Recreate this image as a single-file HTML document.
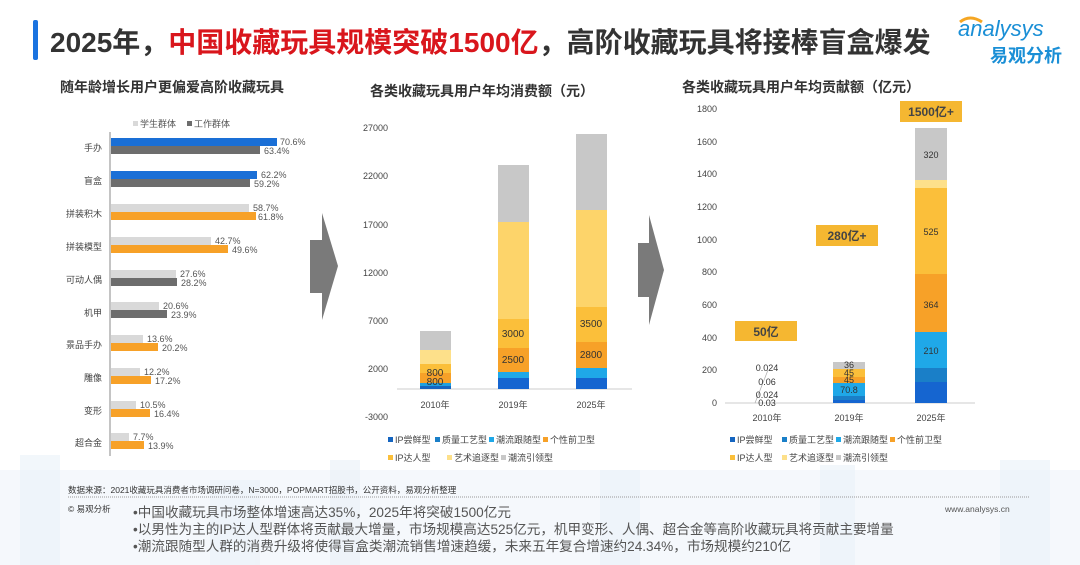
<!DOCTYPE html>
<html><head><meta charset="utf-8"><style>
body{margin:0;background:#fff;}
svg{display:block;font-family:"Liberation Sans","Noto Sans CJK SC",sans-serif;}
</style></head><body>
<svg width="1080" height="565" viewBox="0 0 1080 565" xmlns="http://www.w3.org/2000/svg">
<!-- faint skyline -->
<g fill="#f5f8fc">
<rect x="0" y="470" width="1080" height="95"/>
</g>
<g fill="#eaf1f8" opacity="0.6">
<rect x="20" y="455" width="40" height="110"/><rect x="210" y="480" width="50" height="85"/><rect x="330" y="460" width="30" height="105"/>
<rect x="600" y="470" width="40" height="95"/><rect x="820" y="465" width="35" height="100"/><rect x="1000" y="460" width="50" height="105"/>
</g>
<!-- title -->
<rect x="33" y="20" width="5" height="40" rx="2" fill="#1a73e0"/>
<text x="50" y="52" font-size="28" font-weight="bold" fill="#333">2025年，<tspan fill="#d9161c">中国收藏玩具规模突破1500亿</tspan>，高阶收藏玩具将接棒盲盒爆发</text>
<text x="958" y="36" font-size="22" fill="#1a8fd6" font-style="italic">analysys</text>
<path d="M960 22 q10 -8 22 0" stroke="#f5a623" stroke-width="3" fill="none"/>
<text x="990" y="62" font-size="18" font-weight="bold" fill="#1a8fd6">易观分析</text>
<!-- section titles -->
<g font-size="14" font-weight="bold" fill="#333">
<text x="60" y="92">随年龄增长用户更偏爱高阶收藏玩具</text>
<text x="370" y="96">各类收藏玩具用户年均消费额（元）</text>
<text x="682" y="92">各类收藏玩具用户年均贡献额（亿元）</text>
</g>
<!-- LEFT CHART -->
<g font-size="9" fill="#555">
<rect x="133" y="121" width="5" height="5" fill="#d9d9d9"/><text x="140" y="127">学生群体</text>
<rect x="187" y="121" width="5" height="5" fill="#6d6d6d"/><text x="194" y="127">工作群体</text>
</g>
<line x1="110" y1="132" x2="110" y2="456" stroke="#888" stroke-width="1"/>
<g font-size="9" fill="#444" text-anchor="end">
<text x="102" y="151">手办</text><text x="102" y="184">盲盒</text><text x="102" y="217">拼装积木</text><text x="102" y="250">拼装模型</text><text x="102" y="283">可动人偶</text><text x="102" y="316">机甲</text><text x="102" y="348">景品手办</text><text x="102" y="381">雕像</text><text x="102" y="414">变形</text><text x="102" y="446">超合金</text>
</g>
<g>
<rect x="111" y="138" width="166" height="8" fill="#1a6fd6"/><rect x="111" y="146" width="149" height="8" fill="#6d6d6d"/>
<rect x="111" y="171" width="146" height="8" fill="#1a6fd6"/><rect x="111" y="179" width="139" height="8" fill="#6d6d6d"/>
<rect x="111" y="204" width="138" height="8" fill="#d9d9d9"/><rect x="111" y="212" width="145" height="8" fill="#f7a128"/>
<rect x="111" y="237" width="100" height="8" fill="#d9d9d9"/><rect x="111" y="245" width="117" height="8" fill="#f7a128"/>
<rect x="111" y="270" width="65" height="8" fill="#d9d9d9"/><rect x="111" y="278" width="66" height="8" fill="#6d6d6d"/>
<rect x="111" y="302" width="48" height="8" fill="#d9d9d9"/><rect x="111" y="310" width="56" height="8" fill="#6d6d6d"/>
<rect x="111" y="335" width="32" height="8" fill="#d9d9d9"/><rect x="111" y="343" width="47" height="8" fill="#f7a128"/>
<rect x="111" y="368" width="29" height="8" fill="#d9d9d9"/><rect x="111" y="376" width="40" height="8" fill="#f7a128"/>
<rect x="111" y="401" width="25" height="8" fill="#d9d9d9"/><rect x="111" y="409" width="39" height="8" fill="#f7a128"/>
<rect x="111" y="433" width="18" height="8" fill="#d9d9d9"/><rect x="111" y="441" width="33" height="8" fill="#f7a128"/>
</g>
<g font-size="9" fill="#555">
<text x="280" y="145">70.6%</text><text x="264" y="154">63.4%</text>
<text x="261" y="178">62.2%</text><text x="254" y="187">59.2%</text>
<text x="253" y="211">58.7%</text><text x="258" y="220">61.8%</text>
<text x="215" y="244">42.7%</text><text x="232" y="253">49.6%</text>
<text x="180" y="277">27.6%</text><text x="181" y="286">28.2%</text>
<text x="163" y="309">20.6%</text><text x="171" y="318">23.9%</text>
<text x="147" y="342">13.6%</text><text x="162" y="351">20.2%</text>
<text x="144" y="375">12.2%</text><text x="155" y="384">17.2%</text>
<text x="140" y="408">10.5%</text><text x="154" y="417">16.4%</text>
<text x="133" y="440">7.7%</text><text x="148" y="449">13.9%</text>
</g>
<!-- arrows -->
<g fill="#7a7a7a">
<rect x="310" y="240" width="14" height="53"/><polygon points="322,213 338,266 322,320"/>
<rect x="638" y="243" width="12" height="54"/><polygon points="649,215 664,270 649,325"/>
</g>
<!-- MIDDLE CHART -->
<g font-size="9" fill="#444" text-anchor="end">
<text x="388" y="131">27000</text><text x="388" y="179">22000</text><text x="388" y="228">17000</text><text x="388" y="276">12000</text><text x="388" y="324">7000</text><text x="388" y="372">2000</text><text x="388" y="420">-3000</text>
</g>
<line x1="397" y1="389" x2="632" y2="389" stroke="#ccc"/>
<rect x="420" y="331" width="31" height="19" fill="#c8c8c8"/>
<rect x="420" y="350" width="31" height="14" fill="#fde08a"/>
<rect x="420" y="364" width="31" height="9" fill="#fbbf3a"/>
<rect x="420" y="373" width="31" height="10" fill="#f7a128"/>
<rect x="420" y="383" width="31" height="3" fill="#1fa0e0"/>
<rect x="420" y="386" width="31" height="3" fill="#1565c0"/>
<rect x="498" y="165" width="31" height="57" fill="#c8c8c8"/>
<rect x="498" y="222" width="31" height="97" fill="#fdd46a"/>
<rect x="498" y="319" width="31" height="29" fill="#fbbf3a"/>
<rect x="498" y="348" width="31" height="24" fill="#f7a128"/>
<rect x="498" y="372" width="31" height="6" fill="#1fa8e8"/>
<rect x="498" y="378" width="31" height="11" fill="#1565d0"/>
<rect x="576" y="134" width="31" height="76" fill="#c8c8c8"/>
<rect x="576" y="210" width="31" height="97" fill="#fdd46a"/>
<rect x="576" y="307" width="31" height="35" fill="#fbbf3a"/>
<rect x="576" y="342" width="31" height="26" fill="#f7a128"/>
<rect x="576" y="368" width="31" height="10" fill="#1fa8e8"/>
<rect x="576" y="378" width="31" height="11" fill="#1565d0"/>
<g font-size="10" fill="#333" text-anchor="middle">
<text x="435" y="376">800</text><text x="435" y="385">800</text>
<text x="513" y="337">3000</text><text x="513" y="363">2500</text>
<text x="591" y="327">3500</text><text x="591" y="358">2800</text>
</g>
<g font-size="9" fill="#444" text-anchor="middle">
<text x="435" y="408">2010年</text><text x="513" y="408">2019年</text><text x="591" y="408">2025年</text>
</g>
<g font-size="9" fill="#444">
<rect x="388" y="437" width="5" height="5" fill="#1565c0"/><text x="395" y="443">IP尝鲜型</text>
<rect x="435" y="437" width="5" height="5" fill="#1a7fc8"/><text x="442" y="443">质量工艺型</text>
<rect x="489" y="437" width="5" height="5" fill="#1fa8e8"/><text x="496" y="443">潮流跟随型</text>
<rect x="543" y="437" width="5" height="5" fill="#f7a128"/><text x="550" y="443">个性前卫型</text>
<rect x="388" y="455" width="5" height="5" fill="#fbbf3a"/><text x="395" y="461">IP达人型</text>
<rect x="447" y="455" width="5" height="5" fill="#fde08a"/><text x="454" y="461">艺术追逐型</text>
<rect x="501" y="455" width="5" height="5" fill="#c8c8c8"/><text x="508" y="461">潮流引领型</text>
</g>
<!-- RIGHT CHART -->
<g font-size="9" fill="#444" text-anchor="end">
<text x="717" y="112">1800</text><text x="717" y="145">1600</text><text x="717" y="177">1400</text><text x="717" y="210">1200</text><text x="717" y="243">1000</text><text x="717" y="275">800</text><text x="717" y="308">600</text><text x="717" y="341">400</text><text x="717" y="373">200</text><text x="717" y="406">0</text>
</g>
<line x1="725" y1="403" x2="975" y2="403" stroke="#ccc"/>
<rect x="833" y="362" width="32" height="7" fill="#c8c8c8"/>
<rect x="833" y="369" width="32" height="8" fill="#fbbf3a"/>
<rect x="833" y="377" width="32" height="6" fill="#f7a128"/>
<rect x="833" y="383" width="32" height="13" fill="#1fa8e8"/>
<rect x="833" y="396" width="32" height="4" fill="#1a7fc8"/>
<rect x="833" y="400" width="32" height="3" fill="#1565d0"/>
<rect x="915" y="128" width="32" height="52" fill="#c8c8c8"/>
<rect x="915" y="180" width="32" height="8" fill="#fde08a"/>
<rect x="915" y="188" width="32" height="86" fill="#fbbf3a"/>
<rect x="915" y="274" width="32" height="58" fill="#f7a128"/>
<rect x="915" y="332" width="32" height="36" fill="#1fa8e8"/>
<rect x="915" y="368" width="32" height="14" fill="#1a7fc8"/>
<rect x="915" y="382" width="32" height="21" fill="#1565d0"/>
<line x1="755" y1="403" x2="768" y2="370" stroke="#aaa" stroke-width="0.7"/>
<g font-size="9" fill="#333" text-anchor="middle">
<text x="767" y="371">0.024</text><text x="767" y="385">0.06</text><text x="767" y="398">0.024</text><text x="767" y="406">0.03</text>
<text x="849" y="368">36</text><text x="849" y="376">45</text><text x="849" y="383">45</text><text x="849" y="393">70.8</text>
<text x="931" y="158">320</text><text x="931" y="235">525</text><text x="931" y="308">364</text><text x="931" y="354">210</text>
</g>
<g font-size="12" font-weight="bold" fill="#444" text-anchor="middle">
<rect x="735" y="321" width="62" height="20" fill="#f5b731"/><text x="766" y="336">50亿</text>
<rect x="816" y="225" width="62" height="21" fill="#f5b731"/><text x="847" y="240">280亿+</text>
<rect x="900" y="101" width="62" height="21" fill="#f5b731"/><text x="931" y="116">1500亿+</text>
</g>
<g font-size="9" fill="#444" text-anchor="middle">
<text x="767" y="421">2010年</text><text x="849" y="421">2019年</text><text x="931" y="421">2025年</text>
</g>
<g font-size="9" fill="#444">
<rect x="730" y="437" width="5" height="5" fill="#1565c0"/><text x="737" y="443">IP尝鲜型</text>
<rect x="782" y="437" width="5" height="5" fill="#1a7fc8"/><text x="789" y="443">质量工艺型</text>
<rect x="836" y="437" width="5" height="5" fill="#1fa8e8"/><text x="843" y="443">潮流跟随型</text>
<rect x="890" y="437" width="5" height="5" fill="#f7a128"/><text x="897" y="443">个性前卫型</text>
<rect x="730" y="455" width="5" height="5" fill="#fbbf3a"/><text x="737" y="461">IP达人型</text>
<rect x="782" y="455" width="5" height="5" fill="#fde08a"/><text x="789" y="461">艺术追逐型</text>
<rect x="836" y="455" width="5" height="5" fill="#c8c8c8"/><text x="843" y="461">潮流引领型</text>
</g>
<!-- footer -->
<text x="68" y="493" font-size="8.5" fill="#333">数据来源：2021收藏玩具消费者市场调研问卷，N=3000，POPMART招股书，公开资料，易观分析整理</text>
<line x1="68" y1="497" x2="1030" y2="497" stroke="#999" stroke-dasharray="1,1"/>
<text x="68" y="512" font-size="8.5" fill="#333">© 易观分析</text>
<text x="945" y="512" font-size="8.5" fill="#555">www.analysys.cn</text>
<g font-size="13.6" fill="#555">
<text x="133" y="517">•中国收藏玩具市场整体增速高达35%，2025年将突破1500亿元</text>
<text x="133" y="534">•以男性为主的IP达人型群体将贡献最大增量，市场规模高达525亿元，机甲变形、人偶、超合金等高阶收藏玩具将贡献主要增量</text>
<text x="133" y="551">•潮流跟随型人群的消费升级将使得盲盒类潮流销售增速趋缓，未来五年复合增速约24.34%，市场规模约210亿</text>
</g>
</svg>
</body></html>
